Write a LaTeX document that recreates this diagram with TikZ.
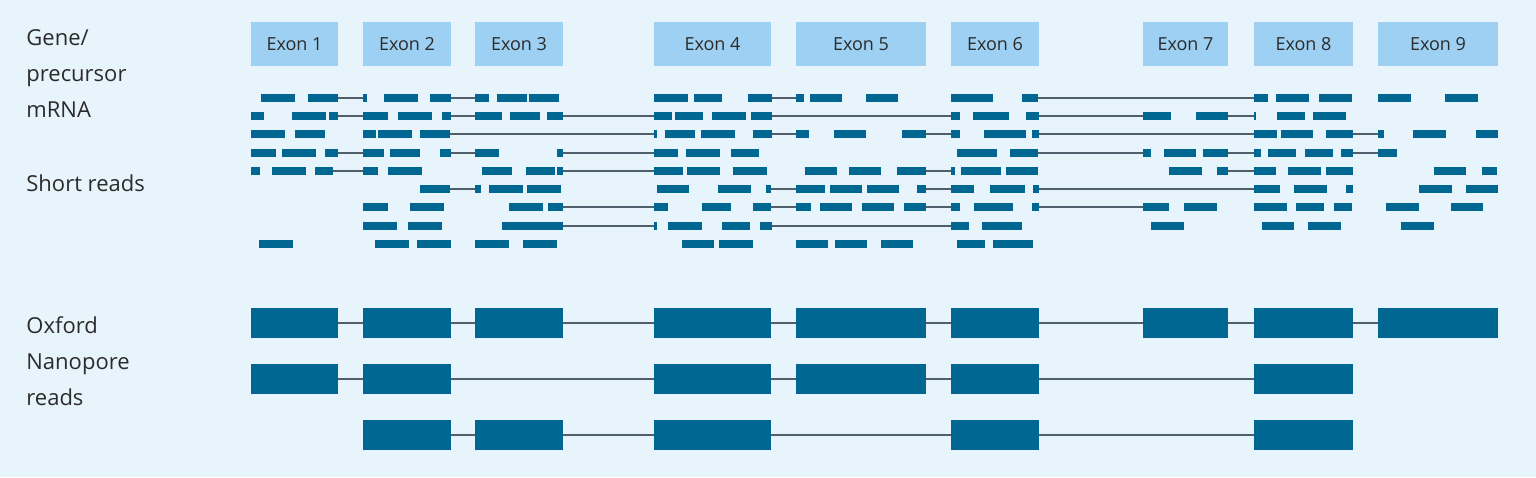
\documentclass[tikz,border=0pt]{standalone}
\usepackage{fontspec}
\setmainfont{Open Sans}
\definecolor{bg}{HTML}{E7F4FC}
\definecolor{exon}{HTML}{9DD0F2}
\definecolor{bar}{HTML}{006692}
\definecolor{lnk}{HTML}{4F5F6B}
\definecolor{txt}{HTML}{2B2B2B}
\tikzset{
  exonbox/.style={fill=exon,draw=none,minimum height=22pt,inner sep=0pt,text=txt,font=\fontsize{9}{11}\selectfont},
  lbl/.style={text=txt,font=\fontsize{11}{18}\selectfont,anchor=north west,align=left,inner sep=0pt},
  lnkline/.style={draw=lnk,line width=0.6pt},
  nano/.style={fill=bar,draw=none}
}
\newcommand{\readrow}[3]{%
  \foreach \a/\b in {#3} {\draw[lnkline] (\a,#1) -- (\b,#1);}
  \foreach \a/\b in {#2} {\fill[bar] (\a,#1-4) rectangle (\b,#1+4);}
}
\newcommand{\ex}[4]{\node[exonbox,minimum width={(#3-#2)*0.5pt}] (#1) at ({(#2+#3)/2},44) {#4};}
\newcommand{\nrow}[2]{%
  \foreach \a/\b [count=\i] in {#2} {
    \ifnum\i>1 \draw[lnkline] (\prevb,#1) -- (\a,#1);\fi
    \fill[nano] (\a,#1-15) rectangle (\b,#1+15);
    \global\let\prevb\b
  }
}
\begin{document}
\begin{tikzpicture}[x=0.5pt,y=-0.5pt]
\fill[bg] (0,0) rectangle (1536,477);
\useasboundingbox (0,0) rectangle (1536,477);
\ex{e1}{251}{338}{Exon 1}
\ex{e2}{363}{451}{Exon 2}
\ex{e3}{475}{563}{Exon 3}
\ex{e4}{654}{771}{Exon 4}
\ex{e5}{796}{926}{Exon 5}
\ex{e6}{951}{1039}{Exon 6}
\ex{e7}{1143}{1228}{Exon 7}
\ex{e8}{1254}{1353}{Exon 8}
\ex{e9}{1378}{1498}{Exon 9}
\node[lbl] (l1) at (26,29) {Gene/\\precursor\\mRNA};
\node[lbl] (l2) at (26,174) {Short reads};
\node[lbl] (l3) at (26,316) {Oxford\\Nanopore\\reads};
% short reads
\readrow{98}{261/295,308/338,363/367,384/418,430/451,475/489,497/527,529/559,654/688,694/722,748/772,796/804,810/842,866/898,951/993,1022/1038,1254/1268,1276/1309,1319/1352,1378/1411,1445/1478}{338/363,451/475,772/796,1038/1254}
\readrow{116}{251/264,292/326,329/338,363/388,398/432,442/451,475/502,510/540,547/563,654/672,675/703,712/746,751/772,951/960,973/1009,1026/1039,1143/1171,1196/1228,1254/1256,1277/1305,1313/1346}{338/363,451/475,563/654,772/951,1039/1143,1228/1254}
\readrow{134}{251/285,295/325,363/376,378/412,420/450,654/657,665/695,701/735,753/772,796/809,834/866,902/926,951/960,984/1026,1032/1039,1254/1277,1281/1313,1326/1353,1378/1384,1413/1446,1476/1498}{450/654,772/796,926/951,1039/1254,1353/1378}
\readrow{153}{251/276,282/316,325/338,363/384,390/420,440/451,475/499,557/563,654/678,686/720,731/759,957/997,1010/1038,1143/1151,1164/1196,1203/1228,1254/1261,1268/1296,1305/1333,1341/1353,1378/1397}{338/363,451/475,563/654,1038/1143,1228/1254,1353/1378}
\readrow{171}{251/260,272/306,315/333,363/378,388/422,482/512,526/555,557/563,654/683,687/720,733/767,805/837,849/881,897/926,951/955,961/1001,1006/1038,1169/1202,1217/1228,1254/1276,1288/1321,1326/1353,1434/1466,1482/1497}{333/363,563/654,926/951,1228/1254}
\readrow{189}{420/450,475/481,489/523,527/561,657/689,718/751,766/771,796/825,830/862,867/899,917/926,951/974,990/1025,1033/1039,1254/1280,1294/1327,1346/1353,1419/1452,1466/1498}{450/475,771/796,926/951,1039/1254}
\readrow{207}{363/388,410/444,509/543,548/563,654/668,702/731,753/771,796/811,820/852,862/894,904/926,951/960,974/1013,1032/1039,1143/1169,1184/1217,1254/1287,1296/1324,1334/1352,1386/1419,1451/1483}{563/654,771/796,926/951,1039/1143}
\readrow{226}{363/397,408/442,502/563,654/657,668/702,722/750,760/772,951/969,982/1022,1151/1184,1262/1294,1308/1341,1401/1434}{563/654,772/951}
\readrow{244}{259/293,375/409,417/451,475/509,523/557,682/714,719/753,796/828,835/867,881/913,957/985,993/1033}{}
% nanopore reads
\nrow{323}{251/338,363/451,475/563,654/771,796/926,951/1039,1143/1228,1254/1353,1378/1498}
\nrow{379}{251/338,363/451,654/771,796/926,951/1039,1254/1353}
\nrow{435}{363/451,475/563,654/771,951/1039,1254/1353}
\end{tikzpicture}
\end{document}
